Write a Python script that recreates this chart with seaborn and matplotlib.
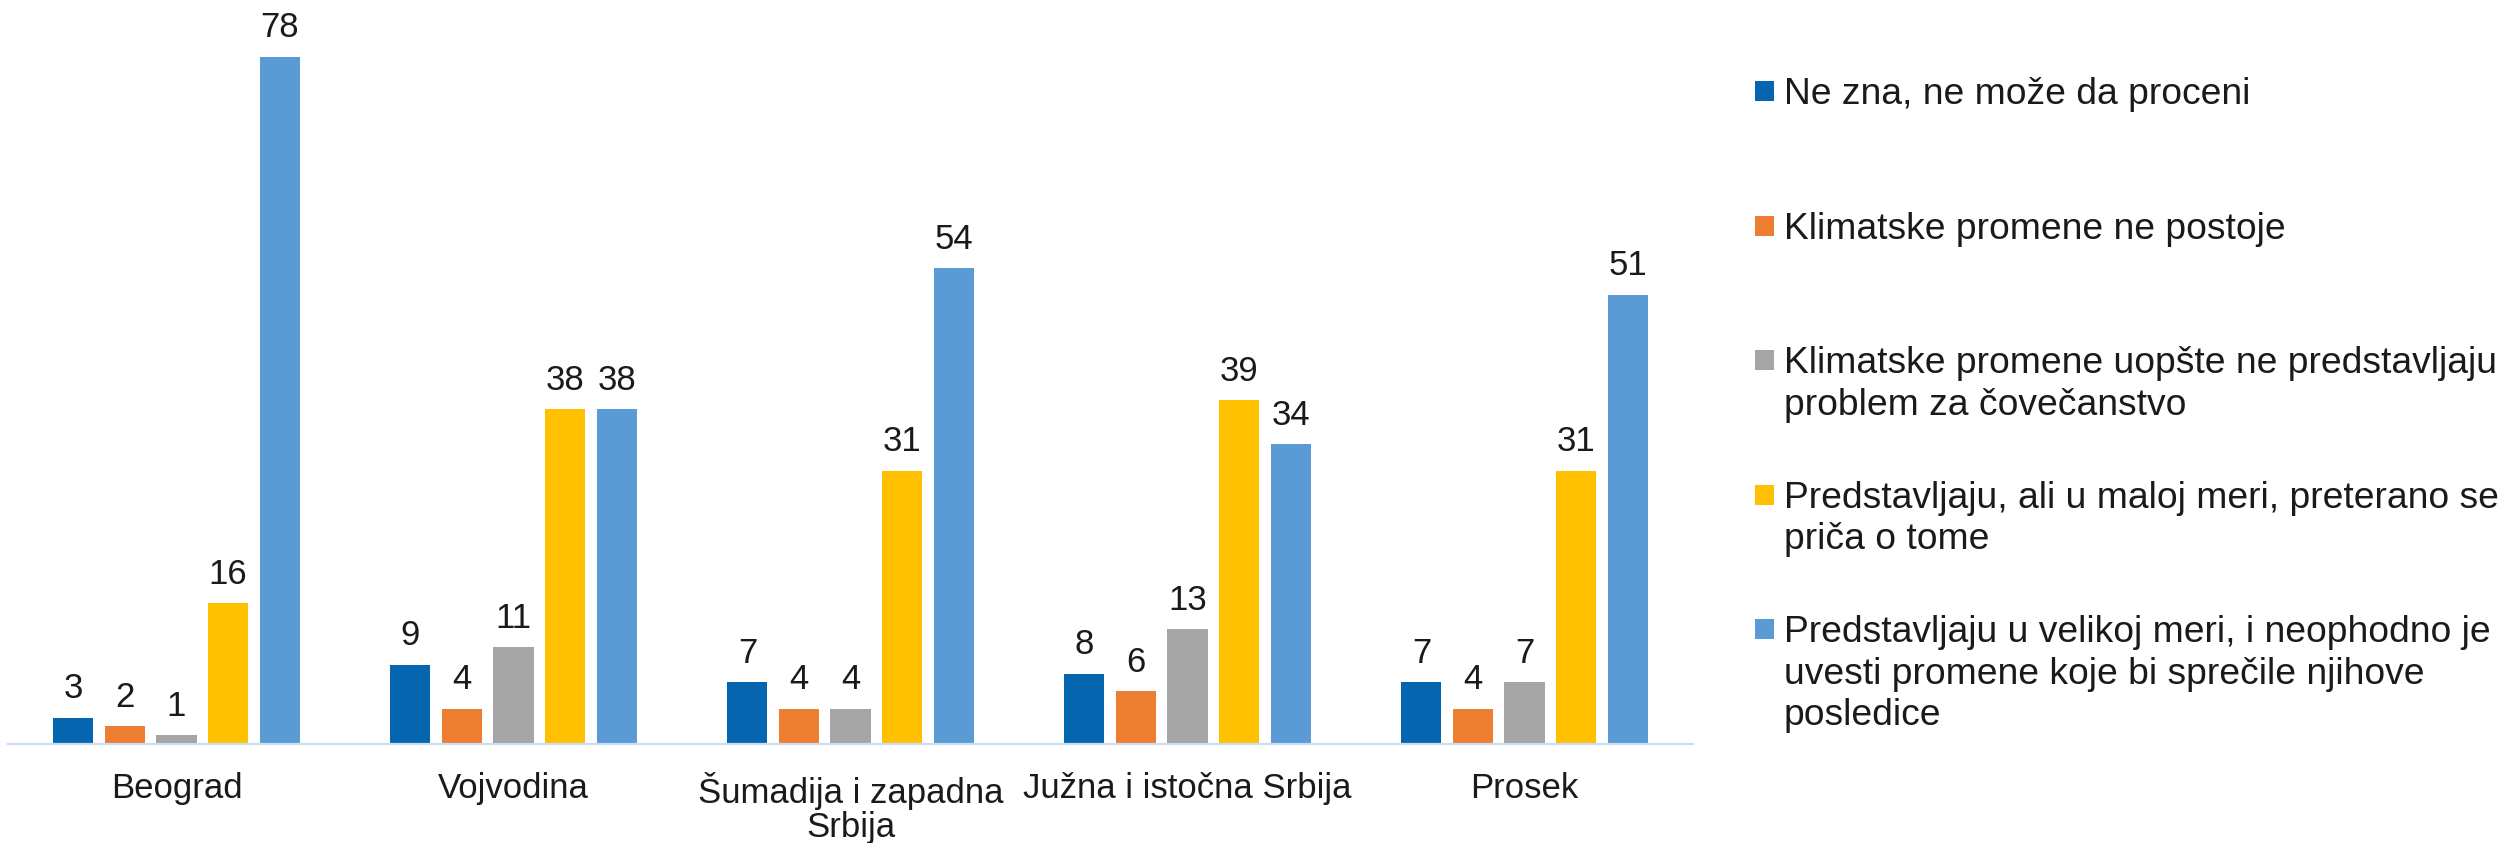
import matplotlib
matplotlib.use("Agg")
import matplotlib.pyplot as plt
from matplotlib.patches import Rectangle
import seaborn as sns
import pandas as pd

# ---- data ----
regions = ["Beograd", "Vojvodina", "Šumadija i zapadna\nSrbija", "Južna i istočna Srbija", "Prosek"]
series = [
    "Ne zna, ne može da proceni",
    "Klimatske promene ne postoje",
    "Klimatske promene uopšte ne predstavljaju\nproblem za čovečanstvo",
    "Predstavljaju, ali u maloj meri, preterano se\npriča o tome",
    "Predstavljaju u velikoj meri, i neophodno je\nuvesti promene koje bi sprečile njihove\nposledice",
]
ne_zna = [3, 9, 7, 8, 7]
ne_postoje = [2, 4, 4, 6, 4]
ne_predstavljaju = [1, 11, 4, 13, 7]
u_maloj_meri = [16, 38, 31, 39, 31]
u_velikoj_meri = [78, 38, 54, 34, 51]
colors = ["#0565AF", "#ED7D31", "#A5A5A5", "#FFC000", "#5B9BD5"]

values = [ne_zna, ne_postoje, ne_predstavljaju, u_maloj_meri, u_velikoj_meri]
rows = []
for s, vals in zip(series, values):
    for r, v in zip(regions, vals):
        rows.append({"region": r, "series": s, "value": v})
df = pd.DataFrame(rows)

# ---- style ----
sns.set_style("white")
plt.rcParams["font.family"] = ["Liberation Sans", "DejaVu Sans"]
TXT = "#1A1A1A"
FS = 25
LFS = 26.8

W, H = 2504, 843
fig = plt.figure(figsize=(W / 100, H / 100), dpi=100)
ax = fig.add_axes([8 / W, (H - 744) / H, 1685 / W, 740 / H])

sns.barplot(data=df, x="region", y="value", hue="series", order=regions,
            hue_order=series, palette=colors, width=0.765, gap=0.223,
            legend=False, ax=ax, saturation=1, linewidth=0)

ax.set_ylim(0, 84)
ax.set_xlim(-0.5, len(regions) - 0.5)
ax.set_xlabel("")
ax.set_ylabel("")
ax.set_yticks([])
for sp in ["top", "left", "right"]:
    ax.spines[sp].set_visible(False)
ax.spines["bottom"].set_color("#C9DDF2")
ax.spines["bottom"].set_linewidth(1.6)
ax.tick_params(axis="x", length=0, pad=20, labelsize=FS, labelcolor=TXT)
for lab in ax.get_xticklabels():
    lab.set_linespacing(1.04)

for c in ax.containers:
    ax.bar_label(c, fmt="%.0f", padding=9, fontsize=FS, color=TXT)

# ---- legend (fixed spacing like the original) ----
first_center = 91
step = 134.6
line_h = 41.5
for i, (s, col) in enumerate(zip(series, colors)):
    cy = first_center + i * step
    fig.patches.append(Rectangle((1755 / W, 1 - (cy + 10) / H), 19 / W, 20 / H,
                                 transform=fig.transFigure, facecolor=col,
                                 edgecolor="none"))
    for j, line in enumerate(s.split("\n")):
        base = cy + 13 + j * line_h
        fig.text(1784 / W, 1 - base / H, line, fontsize=LFS, color=TXT,
                 ha="left", va="baseline")

fig.savefig("out.png", dpi=100)
